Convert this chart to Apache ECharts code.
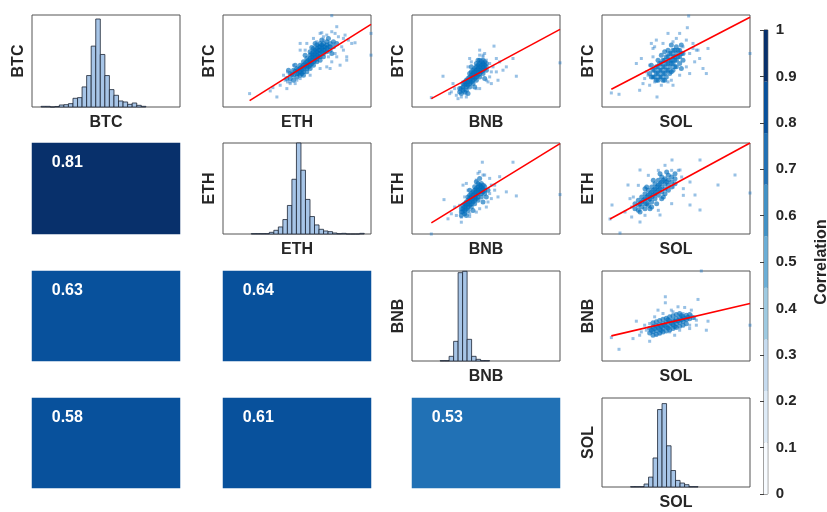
<!DOCTYPE html>
<html>
<head>
<meta charset="utf-8">
<script src="https://cdn.jsdelivr.net/npm/echarts@6/dist/echarts.min.js"></script>
<style>
  html, body { margin: 0; padding: 0; background: #ffffff; }
  #chart { width: 827px; height: 512px; }
</style>
</head>
<body>
<div id="chart"></div>
<script>
// ---- data -------------------------------------------------------------
const assets = ['BTC', 'ETH', 'BNB', 'SOL'];

// Pearson correlations shown in the lower triangle: [row, col] and value
const corrCells = [[1, 0], [2, 0], [2, 1], [3, 0], [3, 1], [3, 2]];
const corrValues = [0.81, 0.63, 0.64, 0.58, 0.61, 0.53];

// Histograms of daily returns (%), fixed 2-point bins
const binWidth = 2;
const histStart = [-24, -20, -10, -14];
const histBTC = [4, 4, 0, 3, 12, 14, 20, 52, 56, 120, 188, 364, 526, 314, 188, 104, 70, 36, 30, 16, 24, 10, 4];
const histETH = [2, 2, 2, 2, 10, 22, 42, 86, 170, 326, 542, 380, 206, 104, 54, 28, 18, 14, 6, 2, 4, 0, 0, 0, 4];
const histBNB = [2, 2, 28, 118, 530, 538, 130, 28, 10, 2, 2];
const histSOL = [2, 2, 2, 18, 60, 176, 470, 506, 250, 100, 40, 24, 14, 2, 2];
const histXRange = [[-28, 37], [-32.5, 33], [-22.5, 43.3], [-26.7, 39.1]];
const histYMax = [550, 542, 540, 540];

// Return pairs (x = column asset, y = row asset), in %.
// "Tail" holds the scattered days, "Core" the crowded centre of each cloud.
const tailBtcEth = [
  [-18.2,-10],[6.5,13.3],[18.3,8],[18.3,1.5],[13.5,5.2],[-10,-11],[-12,-9.2],[-11.2,-8.2],[-9,-7.5],[-7,-8.5],
  [-6.8,-6.5],[-4.5,-7],[11.5,6],[11,0],[10,3],[9.5,4],[8,10],[7.5,8],[6.5,8.5],[3,8],[5,7.5],[9,-1.5],[11,1],
  [6,-2.5],[5,-2],[-5.5,-4.5],[-7.5,-6],[-3,5],[1,6.5],[2,5.5],[-8,-4.5],[-6,-7],[8.5,7],[10,6.5],[4,7],
  [-6.8,-3.5],[-5,-1.5],[-3,3],[-1,5],[4,6],[7,5],[7.5,2],[6.5,-0.5],[3,-2.5],[0,-4.5],[-3,-5.5],[-6,-6.5],
  [3.5,8.2],[10.5,7.5],[12.5,5],[8,1],[-4,-6],[-1.5,3],[5.5,1]
];
const coreBtcEth = [
  [-7,-5.5],[-6,-4],[-6,-5.5],[-5,-3],[-5,-4.5],[-5,-6],[-4,-2.5],[-4,-4],[-4,-5],[-3,-1.5],[-3,-2.5],[-3,-3.5],
  [-3,-4.5],[-2,-0.5],[-2,-1.5],[-2,-2.5],[-2,-3.5],[-2,-4.5],[-1,0.5],[-1,-0.5],[-1,-1.5],[-1,-2.5],[-1,-3.5],
  [0,2.5],[0,1.5],[0,0.5],[0,-0.5],[0,-1.5],[0,-2.5],[1,3.5],[1,2.5],[1,1.5],[1,0.5],[1,-0.5],[1,-1.5],[2,4.5],
  [2,3.5],[2,2.5],[2,1.5],[2,0.5],[2,-0.5],[3,5],[3,4],[3,3],[3,2],[3,1],[3,0],[4,5],[4,4],[4,3],[4,2],[4,1],
  [5,5.5],[5,4.5],[5,3.5],[5,2.5],[6,5],[6,4],[6,3],[7,5.5],[7,4],[8,5],[-6.5,-3],[-4.5,-1.5],[1.5,5],[5.5,6.5],
  [6.5,2],[-1.5,1.5],[0.5,3.8],[3.5,6],
  [-5.5,-4.2],[-4.5,-3.3],[-3.5,-2.8],[-2.5,-2],[-2.5,-3],[-1.5,-1],[-1.5,-2],[-0.5,0],[-0.5,-1],[-0.5,-2],
  [0.5,1],[0.5,0],[0.5,-1],[1.5,2],[1.5,1],[1.5,0],[2.5,3],[2.5,2],[2.5,1],[3.5,3.5],[3.5,2.5],[4.5,4],[4.5,3],
  [5.5,4],[-3.5,-4],[-2.5,-4],[0.5,2],[1.5,3],[2.5,4],[3.5,4.5]
];
const tailBtcBnb = [
  [-13.5,-8.2],[-10,-1.8],[5.3,7.2],[2.5,5],[11,3.5],[12,-1.8],[25.1,2.2],[-5.5,-8.5],[-6,-7.5],[-7.5,-6.5],
  [-8,-7],[-4.5,-8],[6.5,-3],[5,1],[4,-2],[8,0],[9,1],[6,-0.5],[-2,3.5],[2,4],[3,3],[-6.5,-5.5],[-3,-8],[1,-5.5],
  [4.5,-4],[1,4.5],[2,4.5],[-7,-4],[7,2.5],[3.5,-3.5],
  [-2.5,1],[-1.5,2.5],[1.5,3],[4,2],[4.5,-0.5],[3,-3],[0,-5.5],[-3,-7],[-5,-6],[-4,-3.5],[6,3.5],[1,6]
];
const coreBtcBnb = [
  [-5,-6.5],[-5,-5.5],[-4.5,-7],[-4,-6],[-4,-5],[-4,-4],[-3.5,-6.5],[-3,-5],[-3,-4],[-3,-3],[-3,-6],[-2,-4],
  [-2,-3],[-2,-2],[-2,-1],[-2,-5],[-1,-3],[-1,-2],[-1,-1],[-1,0],[-1,-4],[0,-2],[0,-1],[0,0],[0,1],[0,-3],[0,2],
  [1,-1],[1,0],[1,1],[1,2],[1,3],[1,-2],[2,0],[2,1],[2,2],[2,3],[2,-1],[3,1],[3,2],[3,0],[-1.5,1],
  [0.5,3],[-2.5,-7],[2.5,-2.5],[-0.5,-5],
  [-4.5,-5.5],[-3.5,-4.5],[-3.5,-3.5],[-2.5,-4.5],[-2.5,-3.5],[-2.5,-2.5],[-1.5,-3.5],[-1.5,-2.5],[-1.5,-1.5],
  [-1.5,-0.5],[-0.5,-2.5],[-0.5,-1.5],[-0.5,-0.5],[-0.5,0.5],[0.5,-1.5],[0.5,-0.5],[0.5,0.5],[0.5,1.5],
  [1.5,0.5],[1.5,1.5],[1.5,2.5],[1.5,-0.5],[2.5,1.5],[2.5,2.5],[2.5,0.5]
];
const tailBtcSol = [
  [-17.5,-9.8],[-15.2,-10.2],[-9,-9],[-3.8,-11],[5.7,13.2],[5.3,9.7],[11,-4],[11.5,3.5],[24.1,2],[-0.5,8],[3,8],
  [-4,6],[-5.5,5],[-8.5,0.5],[-10,-1],[-8,-7],[-6,-7.5],[-2.5,-7.5],[1,-7.5],[7.5,-0.5],[7,5],[9,0.5],[10,-2.5],
  [5,6],[0.5,-6],[-7,-3.5],[-5,3.5],[6,-4],[-7.5,-5.5],[2,6.5],[8,3],
  [-4.5,4],[-2,5],[1,5.5],[4,4],[6,2],[5,-2],[3,-4.5],[-0.5,-6.5],[-4.5,-6.5],[-6.5,-4.5],[-6,-1.5],[-5,1],
  [7,3.5],[8.5,3]
];
const coreBtcSol = [
  [-6,-4],[-5,-3],[-5,-5],[-4,-2],[-4,-4],[-4,-6],[-3,-1],[-3,-3],[-3,-5],[-2,0],[-2,-2],
  [-2,-4],[-2,-6],[-1,1],[-1,-1],[-1,-3],[-1,-5],[0,2],[0,0],[0,-2],[0,-4],[1,3],[1,1],[1,-1],[1,-3],[2,4],[2,2],
  [2,0],[2,-2],[3,3],[3,1],[3,-1],[4,2],[4,0],[-4.5,-3],[-3.5,-2],[-2.5,-1],[-1.5,0],[-0.5,1],[0.5,2],
  [1.5,3],[2.5,1],[-2.5,-5],[-1.5,-4],[-0.5,-3],[0.5,-1],[1.5,0],[-3.5,0],[-1.5,2.5],[0.5,4.5],[3.5,-2.5],
  [-5.5,-1.5],
  [-5.5,-5],[-4.5,-5],[-3.5,-4],[-2.5,-3],[-1.5,-2],[-0.5,-1],[0.5,0],[1.5,1],[2.5,3],[3.5,2],[-3.5,-6],
  [-1.5,-6],[-0.5,3],[1.5,-2],[0.5,-3.5],[-2.5,1.5],[3.5,4.5]
];
const tailEthBnb = [
  [-13,-11],[-9.2,-0.8],[2.3,10.3],[11.5,10.3],[25.6,0.7],[12.5,0.3],[9.5,1.5],[7,0],[1.5,7.5],[-2.5,4],
  [-8,-6.5],[-4,-7.5],[-4,-6],[-1.5,-5.8],[-5.5,-5.5],[4.5,5.5],[6,2],[5,-0.5],[3.5,-3],[-7,-5],[7.5,6],[1,7],
  [-3.5,3.5],[3,6.5],[5,3.5],[-6,-3],[0.5,-4.5],
  [-2,2],[0.5,5],[3,3.5],[4.5,1],[4,-1.5],[1.5,-3.5],[-1.5,-5],[-4,-4.5],[-4.5,-2.5],[-3,0],[6,3.5],[2.5,6.5]
];
const coreEthBnb = [
  [-4,-4.5],[-4,-3.5],[-4,-5.5],[-3.5,-2.5],[-3,-4],[-3,-3],[-3,-2],[-3,-5],[-2,-3],[-2,-2],[-2,-1],[-2,0],
  [-2,-4],[-1,-2],[-1,-1],[-1,0],[-1,1],[-1,-3],[0,-1],[0,0],[0,1],[0,2],[0,3],[0,-2],[1,0],[1,1],[1,2],[1,3],
  [1,4],[1,-1],[2,1],[2,2],[2,3],[2,4],[2,0],[3,2],[3,3],[3,1],[-1.5,2],[0.5,4.5],[1.5,5.5],[-2.5,-5.5],
  [2.5,-1.5],[3.5,0],[-0.5,-4],[4,2],
  [-3.5,-4.5],[-3.5,-3.5],[-2.5,-3.5],[-2.5,-2.5],[-2.5,-1.5],[-1.5,-2.5],[-1.5,-1.5],[-1.5,-0.5],[-1.5,0.5],
  [-0.5,-1.5],[-0.5,-0.5],[-0.5,0.5],[-0.5,1.5],[0.5,-0.5],[0.5,0.5],[0.5,1.5],[0.5,2.5],[1.5,1.5],[1.5,2.5],
  [1.5,3.5],[2.5,2.5],[2.5,3.5],[2.5,1.5]
];
const tailEthSol = [
  [-13.5,-8.1],[-10.5,-12.3],[13.5,9.6],[18.9,2.1],[24,5.1],[28.5,-0.3],[10.5,-3.9],[-4.5,6.6],[-8.1,2.1],
  [7.5,6.6],[5.1,9.6],[-9,-6],[-4.5,-9],[13.5,-5.4],[1.5,-6.9],[-12.9,-3.9],[10.5,3],[12,-0.9],[7,6.5],
  [-6.5,-1.5],[5.5,1.5],[-7,-7.5],[8.5,1],[3,8],
  [-5,2],[-2,5],[1,6.5],[5,6.5],[8,4.5],[8.5,-1],[5,-3.5],[1,-5.5],[-3,-7],[-7,-4.5],[-7.5,-2]
];
const coreEthSol = [
  [-6,-5],[-6,-3.5],[-5,-4],[-5,-2.5],[-5,-5.5],[-4,-3],[-4,-1.5],[-4,-4.5],[-3,-2],[-3,-0.5],[-3,-3.5],[-3,-5],
  [-2,-1],[-2,0.5],[-2,-2.5],[-2,-4],[-1,0],[-1,1.5],[-1,-1.5],[-1,-3],[0,1],[0,2.5],[0,-0.5],[0,-2],[1,2],[1,3.5],
  [1,0.5],[1,-1],[2,3],[2,4.5],[2,1.5],[2,0],[3,4],[3,2.5],[3,1],[4,5],[4,3.5],[4,2],[5,4.5],[5,3],[6,5.5],[6,4],
  [-4.5,-6],[-2.5,1.5],[-0.5,3.5],[1.5,5.5],[3.5,6],[2.5,-1.5],[0.5,-3.5],[-1.5,-5],
  [-4.5,-3.5],[-3.5,-2.5],[-2.5,-1.5],[-1.5,-0.5],[-0.5,0.5],[0.5,1.5],[1.5,2.5],[2.5,3.5],[3.5,3],[-2.5,-3.5],
  [-1.5,-2],[-0.5,-1],[0.5,0],[1.5,1],[3,-0.5],[4,0.5],[5,1.5],[6,2.5],[2,-2],[-1,-4.5],[-3,1]
];
const tailBnbSol = [
  [-17.5,-4.7],[-15.2,-8.2],[9.5,15.2],[-1.3,7.5],[-1.3,5.7],[8.5,6.7],[2.5,4.5],[4.5,4.3],[11,-2.5],[24.1,-1],
  [11.5,0.2],[-6,-5.8],[-10,0.2],[-11,-5],[-9,-4],[-7,-2.5],[-3.5,3.5],[6.5,3.5],[7.5,1],[6,-2],[1.5,-4],[-4,-4],
  [-7.5,-1],[0.5,3.5],[8,-1],[-8.5,-3],
  [-6,-0.5],[-4.5,1.5],[-2,2.5],[1,3],[4,2.5],[6.5,2],[8,0.5],[6,-1],[3,-2.5],[0,-3],[-3,-3.5],[-5.5,-3]
];
const coreBnbSol = [
  [-6,-3.3],[-6,-1.9],[-5,-4],[-5,-2.9],[-5,-1.5],[-5,-0.3],[-4,-3.7],[-4,-2.6],[-4,-1.2],[-4,0],[-3,-3.4],
  [-3,-2.2],[-3,-0.9],[-3,0.4],[-2,-3],[-2,-1.9],[-2,-0.5],[-2,0.8],[-1,-2.7],[-1,-1.5],[-1,-0.2],[-1,1.1],
  [0,-2.4],[0,-1.2],[0,0.2],[0,1.5],[1,-2],[1,-0.8],[1,0.5],[1,1.8],[2,-1.7],[2,-0.5],[2,0.9],[2,2.2],[3,-1.3],
  [3,-0.1],[3,1.2],[3,2.5],[4,-1],[4,0.2],[4,1.6],[5,-0.6],[5,0.6],[5,2],[6,0.9],[6,2.2],[7,1.3],
  [-5.5,-2.5],[-3.5,-1.6],[-1.5,-1],[0.5,-0.4],[2.5,0.3],[4.5,1],[-2.5,-2.6],[-0.5,0.6],[1.5,-1.4],[3.5,1.9],
  [-4.5,-2],[-2.5,-1.3],[-0.5,-1.8],[1.5,0.2],[3.5,0.6],[5.5,1.4]
];
const scatterPairs = [[0, 1], [0, 2], [0, 3], [1, 2], [1, 3], [2, 3]];
const scatterTail = [tailBtcEth, tailBtcBnb, tailBtcSol, tailEthBnb, tailEthSol, tailBnbSol];
const scatterCore = [coreBtcEth, coreBtcBnb, coreBtcSol, coreEthBnb, coreEthSol, coreBnbSol];
const scatterXRange = [[-26.2, 18.3], [-19.3, 25.1], [-20.3, 24.1], [-18.8, 25.6], [-15.9, 28.5], [-20.3, 24.1]];
const scatterYRange = [[-14, 13.5], [-11, 16.5], [-14, 13.5], [-11, 16], [-12.6, 14.7], [-11.7, 15.2]];

// least-squares fit lines (slope, intercept)
const fitSlope = [0.625, 0.536, 0.517, 0.609, 0.543, 0.233];
const fitIntercept = [-0.74, -1.26, 0.35, 0.22, -0.77, -0.12];

// colour bar: 9-level Blues scale from 0 to 1
const barColors = ['#f7fbff', '#deebf7', '#c6dbef', '#9ecae1', '#6baed6', '#4292c6', '#2171b5', '#08519c', '#08306b'];
const cellPieces = [
  { min: 0.75, max: 1, color: '#08306b' },
  { min: 0.55, max: 0.75, color: '#08519c' },
  { min: 0, max: 0.55, color: '#2171b5' }
];

// ---- layout -----------------------------------------------------------
const FONT = "'Liberation Sans', Arial, Helvetica, sans-serif";
const INK = '#262626';
const colLeft = [32, 223, 412, 602];
const colW = 148;
const rowTop = [15, 143, 271, 398];
const rowH = [92, 91, 90, 90];

const grids = [], xAxes = [], yAxes = [], series = [];
const heatSeries = [];
const bare = { axisLine: { show: false }, axisTick: { show: false }, axisLabel: { show: false }, splitLine: { show: false } };
const nameStyle = { fontFamily: FONT, fontWeight: 'bold', fontSize: 16, color: INK };

function addGrid(r, c, boxed) {
  grids.push({
    left: colLeft[c], top: rowTop[r], width: colW, height: rowH[r],
    show: boxed, borderColor: '#555555', borderWidth: 1, backgroundColor: '#ffffff'
  });
  return grids.length - 1;
}
function namedX(g, name, range) {
  xAxes.push(Object.assign({ gridIndex: g, type: 'value', min: range[0], max: range[1],
    name: name, nameLocation: 'middle', nameGap: 8, nameTextStyle: nameStyle }, bare));
}
function namedY(g, name, range) {
  yAxes.push(Object.assign({ gridIndex: g, type: 'value', min: range[0], max: range[1],
    name: name, nameLocation: 'middle', nameGap: 5, nameRotate: 90, nameTextStyle: nameStyle }, bare));
}

// diagonal: histograms
const histCounts = [histBTC, histETH, histBNB, histSOL];
for (let k = 0; k < 4; k++) {
  const g = addGrid(k, k, true);
  namedX(g, assets[k], histXRange[k]);
  namedY(g, assets[k], [0, histYMax[k]]);
  const bins = histCounts[k].map((c, i) => [histStart[k] + i * binWidth, histStart[k] + (i + 1) * binWidth, c]);
  series.push({
    type: 'custom', xAxisIndex: g, yAxisIndex: g, data: bins,
    renderItem: function (params, api) {
      const p0 = api.coord([api.value(0), api.value(2)]);
      const p1 = api.coord([api.value(1), 0]);
      return {
        type: 'rect',
        shape: { x: p0[0], y: p0[1], width: p1[0] - p0[0], height: p1[1] - p0[1] },
        style: { fill: '#a7c5e7', stroke: '#1c2433', lineWidth: 0.8 }
      };
    }
  });
}

// upper triangle: scatter plots with fitted lines
scatterPairs.forEach(([r, c], k) => {
  const g = addGrid(r, c, true);
  namedX(g, assets[c], scatterXRange[k]);
  namedY(g, assets[r], scatterYRange[k]);
  series.push({
    type: 'scatter', xAxisIndex: g, yAxisIndex: g, data: scatterCore[k],
    symbol: 'circle', symbolSize: 5, silent: true,
    itemStyle: { color: 'rgba(0,108,186,0.8)' }
  });
  series.push({
    type: 'scatter', xAxisIndex: g, yAxisIndex: g, data: scatterTail[k],
    symbol: 'rect', symbolSize: 3, silent: true,
    itemStyle: { color: 'rgba(40,125,200,0.6)' }
  });
  const xs = scatterCore[k].concat(scatterTail[k]).map(p => p[0]);
  const x0 = Math.min.apply(null, xs), x1 = Math.max.apply(null, xs);
  series.push({
    type: 'line', xAxisIndex: g, yAxisIndex: g, showSymbol: false, silent: true, z: 5,
    data: [[x0, fitSlope[k] * x0 + fitIntercept[k]], [x1, fitSlope[k] * x1 + fitIntercept[k]]],
    lineStyle: { color: '#ff0000', width: 1.6 }
  });
});

// lower triangle: correlation cells
corrCells.forEach(([r, c], k) => {
  const g = addGrid(r, c, false);
  xAxes.push(Object.assign({ gridIndex: g, type: 'category', data: [assets[c]] }, bare));
  yAxes.push(Object.assign({ gridIndex: g, type: 'category', data: [assets[r]] }, bare));
  heatSeries.push(series.length);
  series.push({
    type: 'heatmap', xAxisIndex: g, yAxisIndex: g, data: [[0, 0, corrValues[k]]], silent: true,
    label: {
      show: true, position: [20, 12], color: '#ffffff', fontFamily: FONT, fontWeight: 'bold', fontSize: 16,
      formatter: p => p.value[2].toFixed(2)
    }
  });
});

// colour bar
const cb = grids.length;
grids.push({ left: 764, top: 30, width: 15, height: 464, show: true, borderColor: '#404040', borderWidth: 1 });
xAxes.push(Object.assign({ gridIndex: cb, type: 'value', min: 0, max: 1 }, bare));
yAxes.push({
  gridIndex: cb, type: 'value', min: 0, max: 1, interval: 0.1, position: 'right',
  axisLine: { show: false }, splitLine: { show: false },
  axisTick: { show: true, inside: true, length: 4, lineStyle: { color: '#404040' } },
  axisLabel: { show: true, margin: 8, fontFamily: FONT, fontWeight: 'bold', fontSize: 15, color: INK },
  name: 'Correlation', nameLocation: 'middle', nameRotate: 90, nameGap: 46,
  nameTextStyle: nameStyle
});
series.push({
  type: 'custom', xAxisIndex: cb, yAxisIndex: cb, z: 1,
  data: barColors.map((col, i) => [i / barColors.length, (i + 1) / barColors.length, i]),
  renderItem: function (params, api) {
    const p0 = api.coord([0, api.value(1)]);
    const p1 = api.coord([1, api.value(0)]);
    return {
      type: 'rect',
      shape: { x: p0[0], y: p0[1], width: p1[0] - p0[0], height: p1[1] - p0[1] },
      style: { fill: barColors[api.value(2)] }
    };
  }
});

const chart = echarts.init(document.getElementById('chart'), null, { renderer: 'canvas' });
chart.setOption({
  animation: false,
  backgroundColor: '#ffffff',
  grid: grids,
  xAxis: xAxes,
  yAxis: yAxes,
  visualMap: [{
    type: 'piecewise', show: false, seriesIndex: heatSeries, dimension: 2, pieces: cellPieces
  }],
  series: series
});
</script>
</body>
</html>
